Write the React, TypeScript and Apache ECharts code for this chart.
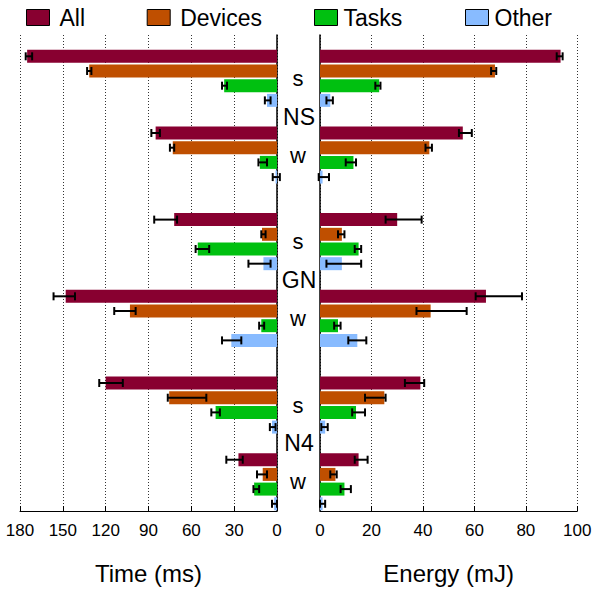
import React, { useEffect, useRef } from "react";
import * as echarts from "echarts";

const FONT = '"Liberation Sans", Arial, Helvetica, sans-serif';

const groups = ["NS", "GN", "N4"];
const modes = ["s", "w"];
const parts = ["All", "Devices", "Tasks", "Other"];
const colors = ["#880030", "#BF4F00", "#00C010", "#88BBFF"];

// order of each array: NS s, NS w, GN s, GN w, N4 s, N4 w
const timeAll = [175, 85, 72, 148, 120, 27];
const timeAllLo = [171.5, 82, 70, 141.5, 108, 24];
const timeAllHi = [176, 88, 86, 156.5, 124.5, 35.5];
const timeDevices = [131.5, 73, 10.5, 103, 75.5, 10];
const timeDevicesLo = [130, 72, 8, 99, 49.5, 7];
const timeDevicesHi = [133, 75, 11, 114, 76.5, 14];
const timeTasks = [37, 12, 55.5, 11, 43, 16];
const timeTasksLo = [35, 7, 47.5, 9, 40, 12.5];
const timeTasksHi = [38.5, 13, 57, 12.5, 46, 16.5];
const timeOther = [7, 1, 9.5, 32, 3.5, 2];
const timeOtherLo = [4.5, -2, 4.5, 25, 1, 0];
const timeOtherHi = [8.5, 3, 20, 38.5, 5, 3.5];

const energyAll = [93.5, 55.5, 30, 64.5, 39, 15];
const energyAllLo = [92, 54, 25.5, 60.5, 33, 13.5];
const energyAllHi = [94.3, 59, 39.5, 78.5, 40.5, 18.5];
const energyDevices = [68, 42.5, 8.5, 43, 25, 6];
const energyDevicesLo = [66.5, 41, 7, 37.5, 17.5, 4];
const energyDevicesHi = [68.5, 43.5, 9.5, 57, 25.5, 6.5];
const energyTasks = [23, 13, 15, 7, 14, 9.5];
const energyTasksLo = [21.5, 10, 13.5, 5.5, 12.5, 8];
const energyTasksHi = [23.5, 14, 16, 8, 17.5, 12];
const energyOther = [4, 1, 8.5, 14.5, 2, 1];
const energyOtherLo = [2.5, -0.5, 2.5, 11, 0.5, 0];
const energyOtherHi = [5, 3.5, 16, 18, 3, 2];

const timeTicks = { min: 0, max: 180, interval: 30 };
const energyTicks = { min: 0, max: 100, interval: 20 };

const BAR_W = 13;
const BAR_GAP = 0.13;
const PITCH = BAR_W * (1 + BAR_GAP);
const CAP = 4;

const FRAME_TOP = 35;
const FRAME_BOTTOM = 524;
const GROUP_TOPS = [40, 203.3, 366.7];
const GROUP_H = 153.4;
const legendLefts = [26, 146.7, 314, 465];

const sides = [
  {
    name: "Time (ms)",
    ticks: timeTicks,
    inverse: true,
    left: 20,
    width: 257,
    vals: [timeAll, timeDevices, timeTasks, timeOther],
    lo: [timeAllLo, timeDevicesLo, timeTasksLo, timeOtherLo],
    hi: [timeAllHi, timeDevicesHi, timeTasksHi, timeOtherHi],
  },
  {
    name: "Energy (mJ)",
    ticks: energyTicks,
    inverse: false,
    left: 320,
    width: 257.3,
    vals: [energyAll, energyDevices, energyTasks, energyOther],
    lo: [energyAllLo, energyDevicesLo, energyTasksLo, energyOtherLo],
    hi: [energyAllHi, energyDevicesHi, energyTasksHi, energyOtherHi],
  },
];

function buildOption() {
  const grid: any[] = [];
  const xAxis: any[] = [];
  const yAxis: any[] = [];
  const series: any[] = [];

  // frame grids (axes, gridlines)
  sides.forEach((sd, si) => {
    grid.push({ left: sd.left, width: sd.width, top: FRAME_TOP, height: FRAME_BOTTOM - FRAME_TOP });
    xAxis.push({
      gridIndex: si,
      type: "value",
      min: sd.ticks.min,
      max: sd.ticks.max,
      interval: sd.ticks.interval,
      inverse: sd.inverse,
      position: "bottom",
      name: sd.name,
      nameLocation: "middle",
      nameGap: 50,
      nameTextStyle: { fontSize: 24, color: "#000", fontFamily: FONT },
      axisLine: { show: true, lineStyle: { color: "#000", width: 1 } },
      axisTick: { show: true, inside: true, length: 5, lineStyle: { color: "#000" } },
      axisLabel: { fontSize: 17, color: "#000", fontFamily: FONT, margin: 11 },
      splitLine: { show: true, lineStyle: { color: "#333", type: [1, 2], width: 1 } },
    });
    yAxis.push({
      gridIndex: si,
      type: "value",
      min: 0,
      max: 1,
      position: si === 0 ? "right" : "left",
      axisLine: { show: true, onZero: false, lineStyle: { color: "#000", width: 1.5 } },
      axisTick: { show: false },
      axisLabel: { show: false },
      splitLine: { show: false },
    });
  });

  // group grids
  sides.forEach((sd, si) => {
    groups.forEach((g, gi) => {
      const idx = grid.length;
      grid.push({ left: sd.left, width: sd.width, top: GROUP_TOPS[gi], height: GROUP_H });
      xAxis.push({
        gridIndex: idx,
        type: "value",
        min: sd.ticks.min,
        max: sd.ticks.max,
        inverse: sd.inverse,
        show: false,
      });
      yAxis.push({
        gridIndex: idx,
        type: "category",
        data: modes,
        inverse: true,
        position: "right",
        show: si === 0,
        axisLine: { show: false },
        axisTick: { show: false },
        splitLine: { show: false },
        axisLabel: {
          show: si === 0,
          margin: 21,
          align: "center",
          fontSize: 22,
          color: "#000",
          fontFamily: FONT,
        },
      });
      parts.forEach((p, pi) => {
        series.push({
          type: "bar",
          name: p,
          xAxisIndex: idx,
          yAxisIndex: idx,
          barWidth: BAR_W,
          barGap: BAR_GAP * 100 + "%",
          itemStyle: { color: colors[pi] },
          data: modes.map((_, mi) => sd.vals[pi][gi * 2 + mi]),
        });
      });
      const errData: number[][] = [];
      parts.forEach((_, pi) => {
        modes.forEach((_, mi) => {
          errData.push([sd.lo[pi][gi * 2 + mi], sd.hi[pi][gi * 2 + mi], mi, pi]);
        });
      });
      series.push({
        type: "custom",
        xAxisIndex: idx,
        yAxisIndex: idx,
        z: 5,
        clip: false,
        encode: { x: [0, 1], y: 2 },
        data: errData,
        renderItem: (params: any, api: any) => {
          const lo = api.value(0);
          const hi = api.value(1);
          const cat = api.value(2);
          const pi = api.value(3);
          const a = api.coord([lo, cat]);
          const b = api.coord([hi, cat]);
          const y = a[1] + (pi - 1.5) * PITCH;
          const st = { stroke: "#000", lineWidth: 2 };
          return {
            type: "group",
            children: [
              { type: "line", shape: { x1: a[0], y1: y, x2: b[0], y2: y }, style: st },
              { type: "line", shape: { x1: a[0], y1: y - CAP, x2: a[0], y2: y + CAP }, style: st },
              { type: "line", shape: { x1: b[0], y1: y - CAP, x2: b[0], y2: y + CAP }, style: st },
            ],
          };
        },
      });
    });
  });

  const legend = parts.map((p, i) => ({
    data: [p],
    left: legendLefts[i],
    top: 6,
    padding: 0,
    icon: "rect",
    itemWidth: 23,
    itemHeight: 16,
    itemGap: 0,
    selectedMode: false,
    itemStyle: { borderColor: "#000", borderWidth: 1 },
    textStyle: { fontSize: 23, color: "#000", fontFamily: FONT, padding: [0, 0, 0, i < 2 ? 5 : 1] },
  }));

  const graphic = groups.map((g, gi) => ({
    type: "text",
    x: 299,
    y: GROUP_TOPS[gi] + GROUP_H / 2,
    style: {
      text: g,
      fill: "#000",
      font: `23px ${FONT}`,
      align: "center",
      verticalAlign: "middle",
      textAlign: "center",
      textVerticalAlign: "middle",
    },
  }));

  return {
    animation: false,
    backgroundColor: "#fff",
    textStyle: { fontFamily: FONT },
    legend,
    grid,
    xAxis,
    yAxis,
    series,
    graphic,
  };
}

export default function App() {
  const ref = useRef<HTMLDivElement>(null);
  useEffect(() => {
    document.body.style.margin = "0";
    const chart = echarts.init(ref.current!, undefined, { renderer: "svg" });
    chart.setOption(buildOption() as any);
    return () => chart.dispose();
  }, []);
  return <div ref={ref} style={{ width: 596, height: 590, position: "absolute", left: 0, top: 0 }} />;
}
